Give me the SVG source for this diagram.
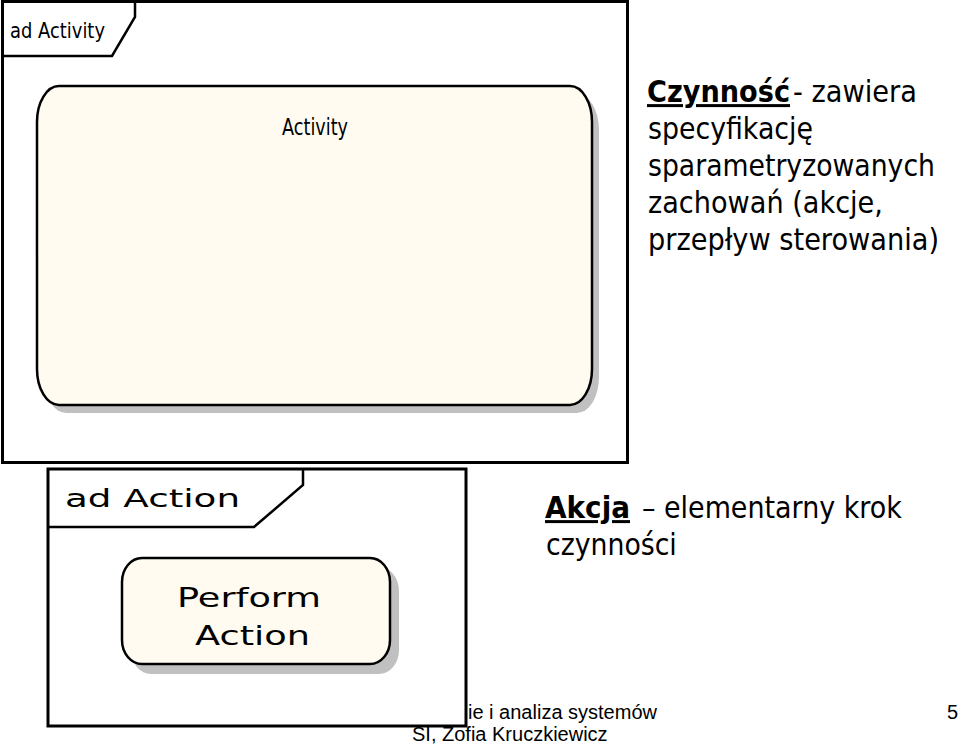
<svg xmlns="http://www.w3.org/2000/svg" width="960" height="745" viewBox="0 0 960 745">
<style>
.frame{fill:#fff;stroke:#000;stroke-width:3}
.tab{fill:none;stroke:#000;stroke-width:2.5}
.node{fill:#FFFBF0;stroke:#000;stroke-width:2.5}
.shadow{fill:#C0C0C0}
.uml{font-family:"DejaVu Sans","Liberation Sans",sans-serif;fill:#000}
.desc{font-family:"DejaVu Sans","Liberation Sans",sans-serif;font-size:30px;fill:#000}
.bold{font-weight:bold;text-decoration:underline}
.foot{font-family:"Liberation Sans",Arial,sans-serif;font-size:20px;fill:#000}
</style>
<rect x="0" y="0" width="960" height="745" fill="#fff"/>

<g id="frame-activity">
<rect class="frame" x="2.5" y="1.5" width="625" height="461"/>
<path class="tab" d="M2.5,56 H112 L135,17 V1.5"/>
<text class="uml" x="10" y="38" font-size="21" textLength="95" lengthAdjust="spacingAndGlyphs">ad Activity</text>
</g>

<g id="node-activity">
<rect class="shadow" x="44" y="94" width="555" height="319" rx="22" ry="36"/>
<rect class="node" x="37" y="86" width="555" height="319" rx="22" ry="36"/>
<text class="uml" x="282" y="135" font-size="23" textLength="66" lengthAdjust="spacingAndGlyphs">Activity</text>
</g>

<g id="frame-action">
<rect class="frame" x="48" y="469" width="418" height="257"/>
<path class="tab" d="M48,527 H254 L303,485 V469"/>
<text class="uml" x="65" y="507" font-size="25" textLength="175" lengthAdjust="spacingAndGlyphs">ad Action</text>
</g>

<g id="node-action">
<rect class="shadow" x="131" y="567" width="268" height="107" rx="20" ry="24"/>
<rect class="node" x="122" y="558" width="268" height="106" rx="20" ry="24"/>
<text class="uml" x="177" y="607" font-size="27" textLength="144" lengthAdjust="spacingAndGlyphs">Perform</text>
<text class="uml" x="195" y="645" font-size="27" textLength="115" lengthAdjust="spacingAndGlyphs">Action</text>
</g>

<g id="connectors"></g>

<g id="text-activity" transform="translate(647,0) scale(0.89,1)">
<text class="desc bold" x="0" y="102" textLength="160.7" lengthAdjust="spacingAndGlyphs">Czynność</text>
<text class="desc" x="164" y="102" textLength="139.3" lengthAdjust="spacingAndGlyphs">- zawiera</text>
<text class="desc" x="1.1" y="139" textLength="185.4" lengthAdjust="spacingAndGlyphs">specyfikację</text>
<text class="desc" x="1.1" y="176" textLength="322.5" lengthAdjust="spacingAndGlyphs">sparametryzowanych</text>
<text class="desc" x="1.1" y="213" textLength="264" lengthAdjust="spacingAndGlyphs">zachowań (akcje,</text>
<text class="desc" x="1.1" y="250" textLength="327" lengthAdjust="spacingAndGlyphs">przepływ sterowania)</text>
</g>

<g id="text-action" transform="translate(545,0) scale(0.89,1)">
<text class="desc bold" x="0" y="518" textLength="95.5" lengthAdjust="spacingAndGlyphs">Akcja</text>
<text class="desc" x="109" y="518" textLength="292" lengthAdjust="spacingAndGlyphs">– elementarny krok</text>
<text class="desc" x="1.1" y="555" textLength="147" lengthAdjust="spacingAndGlyphs">czynności</text>
</g>

<g id="footer">
<text class="foot" x="468" y="719">ie i analiza systemów</text>
<text class="foot" x="412" y="741">SI, Zofia Kruczkiewicz</text>
<text class="foot" x="947" y="719">5</text>
</g>
</svg>
